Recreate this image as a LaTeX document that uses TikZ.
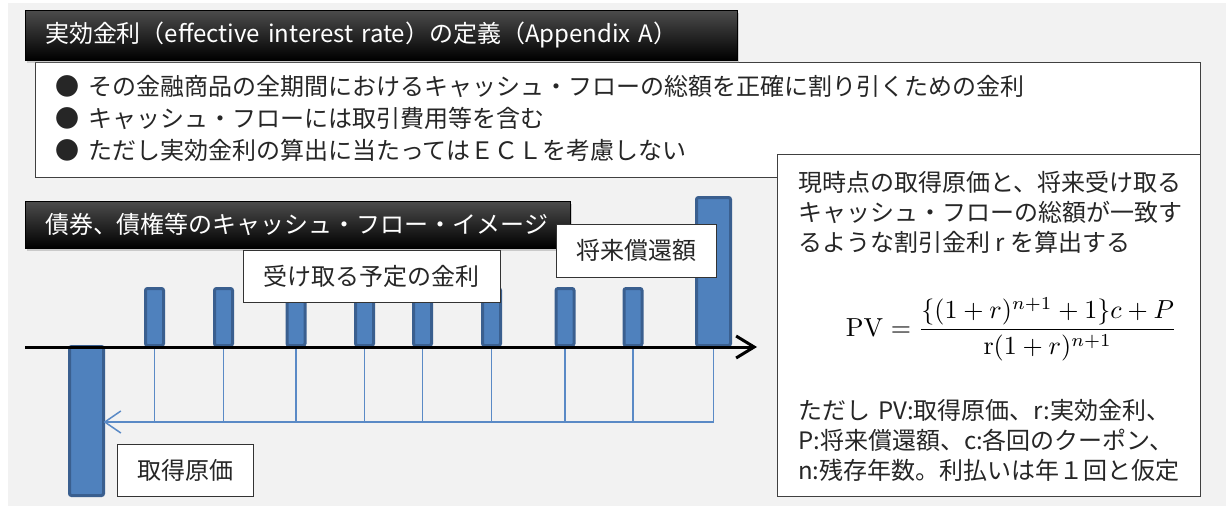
\documentclass[tikz,border=0pt]{standalone}
\usepackage[no-math]{fontspec}
\setmainfont{Noto Sans CJK JP}
\usepackage{graphicx}
\usetikzlibrary{arrows.meta,shadows}
\definecolor{bg}{HTML}{F2F2F2}
\definecolor{barfill}{HTML}{4F81BD}
\definecolor{bardraw}{HTML}{3A5F8F}
\definecolor{flowc}{HTML}{5A8AC6}
\begin{document}
\begin{tikzpicture}[x=1pt,y=-1pt,
  titlebox/.style={draw=black, top color=black!70, middle color=black, bottom color=black,
    drop shadow={opacity=0.35, shadow xshift=2pt, shadow yshift=-3pt},
    text=white, font=\fontsize{24}{28}\selectfont, inner xsep=20pt, inner ysep=0pt,
    outer sep=0pt, anchor=north west, align=left},
  bar/.style={fill=barfill, draw=bardraw, line width=3pt, rounded corners=2pt,
    inner sep=0pt, outer sep=0pt},
  flow/.style={draw=flowc, line width=1.5pt},
  axisline/.style={draw=black, line width=3pt, -{Straight Barb[length=18pt,width=22pt]}},
  lbl/.style={draw=black!80, fill=white, line width=1pt, font=\fontsize{24}{28}\selectfont,
    inner sep=0pt, outer sep=0pt, text=black!85},
  whitebox/.style={draw=black!75, fill=white, line width=1pt, inner sep=0pt, outer sep=0pt,
    anchor=north west},
  bodytext/.style={font=\fontsize{24}{30}\selectfont, text=black!85, inner sep=0pt,
    align=left, anchor=west}
]
\useasboundingbox (0,0) rectangle (1226,506);
\fill[bg] (8,3) rectangle (1226,506);

% bars
\node[bar, minimum width=18pt, minimum height=57pt] (c1) at (154.5,317) {};
\node[bar, minimum width=18pt, minimum height=57pt] (c2) at (223.5,317) {};
\node[bar, minimum width=18pt, minimum height=57pt] (c3) at (296,317) {};
\node[bar, minimum width=18pt, minimum height=57pt] (c4) at (364.5,317) {};
\node[bar, minimum width=18pt, minimum height=57pt] (c5) at (422.5,317) {};
\node[bar, minimum width=18pt, minimum height=57pt] (c6) at (491.5,317) {};
\node[bar, minimum width=18pt, minimum height=57pt] (c7) at (565,317) {};
\node[bar, minimum width=18pt, minimum height=57pt] (c8) at (633,317) {};
\node[bar, minimum width=34pt, minimum height=148pt] (red) at (713.5,271.5) {};
\node[bar, minimum width=34pt, minimum height=149pt] (init) at (86.5,421) {};

% flow lines
\coordinate (hl) at (0,422);
\foreach \n in {c1,c2,c3,c4,c5,c6,c7,c8,red}{
  \draw[flow] (\n.south) -- (\n.south |- hl);
}
\draw[flow, -{Straight Barb[length=16pt,width=22pt]}] (red.south |- hl) -- (init.east |- hl);

% axis
\coordinate (ax0) at (25,347);
\coordinate (ax1) at (757,347);
\draw[axisline] (ax0) -- (ax1);

% title 2
\node[titlebox, minimum width=545pt, minimum height=47pt, text width=505pt] (t2) at (25,201)
  {債券、債権等のキャッシュ・フロー・イメージ};

% labels
\node[lbl, minimum width=257pt, minimum height=52pt] (cpn) at (371.5,276) {受け取る予定の金利};
\node[lbl, minimum width=160pt, minimum height=53pt] (prin) at (636,250.5) {将来償還額};
\node[lbl, minimum width=136pt, minimum height=52pt] (cost) at (185,470) {取得原価};

% bullet box
\node[whitebox, minimum width=1165pt, minimum height=115pt] (defs) at (35,62) {};
\node[bodytext, font=\fontsize{24}{32}\selectfont] (bl) at (55,118)
  {●\hspace{9pt}その金融商品の全期間におけるキャッシュ・フローの総額を正確に割り引くための金利\\
   ●\hspace{9pt}キャッシュ・フローには取引費用等を含む\\
   ●\hspace{9pt}ただし実効金利の算出に当たってはＥＣＬを考慮しない};

% title 1
\node[titlebox, minimum width=712pt, minimum height=50pt, text width=672pt] (t1) at (25,10)
  {実効金利（effective interest rate）の定義（Appendix A）};

% formula box
\node[whitebox, minimum width=423pt, minimum height=342pt] (fbox) at (777,154) {};
\node[bodytext] (ftop) at (798,212)
  {現時点の取得原価と、将来受け取る\\
   キャッシュ・フローの総額が一致す\\
   るような割引金利 r を算出する};
\node[inner sep=0pt] (pv) at (1011.5,329)
  {\resizebox{331pt}{!}{$\displaystyle \mathrm{PV}=\frac{\{(1+r)^{n+1}+1\}c+P}{\mathrm{r}(1+r)^{n+1}}$}};
\node[bodytext] (fbot) at (798,440)
  {ただし\hspace{8pt}PV:取得原価、r:実効金利、\\
   P:将来償還額、c:各回のクーポン、\\
   n:残存年数。利払いは年１回と仮定};
\end{tikzpicture}
\end{document}
